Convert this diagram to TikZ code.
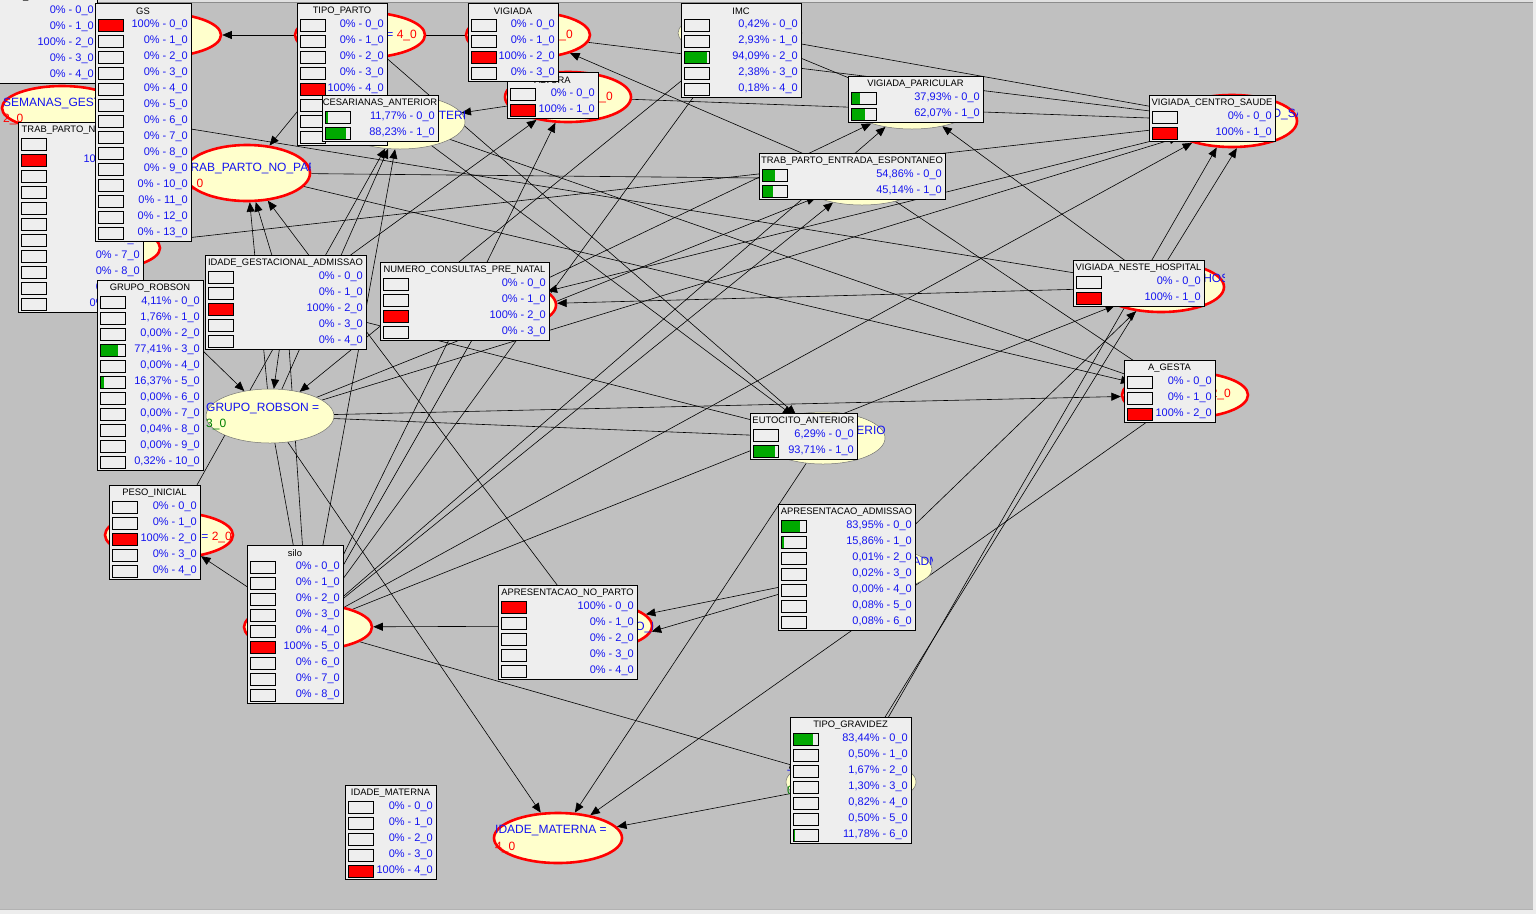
\documentclass[tikz,border=0pt]{standalone}
\usepackage{fontspec}
\setmainfont{Liberation Sans}
\usetikzlibrary{shapes.geometric,arrows.meta}
\definecolor{bgc}{RGB}{192,192,192}
\definecolor{boxc}{RGB}{238,238,238}
\definecolor{ellc}{RGB}{255,255,204}
\definecolor{vblue}{RGB}{20,20,240}
\definecolor{bgreen}{RGB}{0,168,0}
\definecolor{lgreen}{RGB}{0,128,0}
\definecolor{bred}{RGB}{255,0,0}
\pgfdeclarelayer{bglayer}\pgfdeclarelayer{edgelayer}\pgfdeclarelayer{frontlayer}
\pgfsetlayers{bglayer,edgelayer,main,frontlayer}
\tikzset{
 pboxst/.style={draw=black, line width=0.8pt, fill=boxc, inner sep=0pt, outer sep=0pt},
 ptitle/.style={font=\fontsize{9.4}{10}\selectfont, text=black, inner sep=0pt},
 pval/.style={font=\fontsize{11}{12}\selectfont, text=vblue, inner sep=0pt},
 eobs/.style={ellipse, draw=bred, line width=2.6pt, fill=ellc, inner sep=0pt},
 eun/.style={ellipse, draw=black!55, line width=0.5pt, fill=ellc, inner sep=0pt},
 elab/.style={font=\fontsize{12}{14}\selectfont, text=vblue, inner sep=0pt},
 edge/.style={draw=black, line width=0.6pt, -{Triangle[length=9.5pt,width=8pt]}},
 pedge/.style={draw=black, line width=0.6pt},
}
% ellipse node
\newcommand\bnell[6]{\node[#2, minimum width=2*#5, minimum height=2*#6] (#1) at (#3,#4) {};}
% box with one observed row
\newcommand\evbox[7]{%
 \pgfmathsetmacro\pbh{14+16*#5}%
 \node[pboxst, minimum width=#4, minimum height=\pbh, anchor=north west] (#1) at (#2,#3) {};%
 \node[ptitle] (#1t) at ({#2+#4/2},{#3+8}) {#6};%
 \pgfmathtruncatemacro\nlast{#5-1}%
 \foreach \ii in {0,...,\nlast} {%
   \pgfmathsetmacro\ry{#3+22+16*\ii}%
   \ifnum\ii=#7\relax
     \fill[bred] (#2+3,\ry-6) rectangle (#2+28,\ry+6);
     \def\pp{100}%
   \else
     \fill[boxc] (#2+3,\ry-6) rectangle (#2+28,\ry+6);
     \def\pp{0}%
   \fi
   \draw[black, line width=0.8pt] (#2+3,\ry-6) rectangle (#2+28,\ry+6);
   \node[pval, anchor=east] (#1r\ii) at (#2+#4-3,\ry) {\pp\% - \ii\_0};
 }%
}
% box with given rows: pct/value/fraction
\newcommand\pbox[7]{%
 \pgfmathsetmacro\pbh{14+16*#5}%
 \node[pboxst, minimum width=#4, minimum height=\pbh, anchor=north west] (#1) at (#2,#3) {};%
 \node[ptitle] (#1t) at ({#2+#4/2},{#3+8}) {#6};%
 \foreach \pp/\vv/\ff [count=\ii from 0] in {#7} {%
   \pgfmathsetmacro\ry{#3+22+16*\ii}%
   \fill[boxc] (#2+3,\ry-6) rectangle (#2+28,\ry+6);
   \ifdim\ff pt>0pt \fill[bgreen] (#2+3,\ry-6) rectangle ({#2+3+25*\ff},\ry+6); \fi
   \draw[black, line width=0.8pt] (#2+3,\ry-6) rectangle (#2+28,\ry+6);
   \node[pval, anchor=east] (#1r\ii) at (#2+#4-3,\ry) {\pp\% - \vv\_0};
 }%
}
\begin{document}
\begin{tikzpicture}[x=1pt,y=-1pt]
\useasboundingbox (0,0) rectangle (1536,914);
\begin{pgfonlayer}{bglayer}
\fill[bgc] (0,0) rectangle (1536,914);
\fill[black!12] (0,0) rectangle (1536,2);
\draw[black!45, line width=1pt] (0,2.5) -- (1536,2.5);
\fill[black!7] (0,909) rectangle (1536,914);
\draw[black!30, line width=0.8pt] (0,909) -- (1536,909);
\fill[black!7] (1533,0) rectangle (1536,914);
\end{pgfonlayer}

% ---------- ellipses ----------
\bnell{eSEM}{eobs}{62}{108}{60}{22}
\bnell{eGS}{eobs}{158}{35}{63}{22}
\bnell{eTP}{eobs}{360}{35}{65}{23}
\bnell{eVIG}{eobs}{528}{35}{62}{23}
\bnell{eALT}{eobs}{568}{97}{63}{25}
\bnell{eIMC}{eun}{740}{33}{62}{22}
\bnell{eCES}{eun}{400}{122}{65}{27}
\bnell{eVP}{eun}{912}{104}{64}{25}
\bnell{eVCS}{eobs}{1232}{121}{65}{26}
\bnell{eTPNP}{eobs}{247}{173}{63}{28}
\bnell{eTPE}{eun}{862}{179}{64}{26}
\bnell{eHID}{eobs}{97}{248}{63}{22}
\bnell{eIGA}{eobs}{286}{302}{64}{24}
\bnell{eNCP}{eobs}{492}{305}{64}{25}
\bnell{eGR}{eun}{270}{416}{64}{27}
\bnell{eVNH}{eobs}{1161}{287}{63}{25}
\bnell{eAG}{eobs}{1185}{395}{63}{23}
\bnell{eEA}{eun}{823}{438}{62}{26}
\bnell{ePI}{eobs}{169}{535}{64}{23}
\bnell{eSILO}{eobs}{308}{627}{64}{23}
\bnell{eANP}{eobs}{588}{626}{64}{24}
\bnell{eAA}{eun}{869}{569}{63}{22}
\bnell{eTG}{eun}{851}{782}{65}{24}
\bnell{eIM}{eobs}{558}{838}{64}{25}

% ---------- ellipse labels ----------
\begin{scope}\clip (2,86) rectangle (122,130);
\node[elab, anchor=west] (lSEM1) at (3,103) {SEMANAS\_GESTACAO =};
\node[elab, anchor=west, text=bred] (lSEM2) at (3,119) {2\_0};
\end{scope}
\node[elab, anchor=east] (lTP) at (417,35) {TIPO\_PARTO = \textcolor{bred}{4\_0}};
\node[elab, anchor=east] (lVIG) at (573,35) {VIGIADA = \textcolor{bred}{2\_0}};
\node[elab, anchor=east] (lALT) at (613,97) {ALTURA = \textcolor{bred}{1\_0}};
\begin{scope}\clip (335,95) rectangle (465,149);
\node[elab, anchor=west] (lCES) at (338,116) {CESARIANAS\_ANTERIOR =};
\end{scope}
\begin{scope}\clip (184,145) rectangle (310,201);
\node[elab, anchor=west] (lTPNP1) at (183,168) {TRAB\_PARTO\_NO\_PARTO =};
\node[elab, anchor=west, text=bred] (lTPNP2) at (183,184) {1\_0};
\end{scope}
\node[elab, anchor=west] (lGR1) at (206,408) {GRUPO\_ROBSON =};
\node[elab, anchor=west, text=lgreen] (lGR2) at (206,424) {3\_0};
\begin{scope}\clip (1167,95) rectangle (1297,147);
\node[elab, anchor=west] (lVCS) at (1175,114) {VIGIADA\_CENTRO\_SAUDE =};
\end{scope}
\begin{scope}\clip (1098,262) rectangle (1224,312);
\node[elab, anchor=west] (lVNH) at (1101,279) {VIGIADA\_NESTE\_HOSPITAL =};
\end{scope}
\node[elab, anchor=east] (lAG) at (1231,394) {A\_GESTA = \textcolor{bred}{2\_0}};
\begin{scope}\clip (761,412) rectangle (885,464);
\node[elab, anchor=west] (lEA) at (764,431) {EUTOCITO\_ANTERIOR =};
\end{scope}
\node[elab, anchor=east] (lPI) at (232,537) {PESO\_INICIAL = \textcolor{bred}{2\_0}};
\begin{scope}\clip (524,602) rectangle (652,650);
\node[elab, anchor=west] (lANP) at (522,627) {APRESENTACAO\_NO\_PARTO = \textcolor{bred}{0\_0}};
\end{scope}
\begin{scope}\clip (806,547) rectangle (932,591);
\node[elab, anchor=west] (lAA) at (808,562) {APRESENTACAO\_ADMISSAO =};
\end{scope}
\begin{scope}\clip (786,758) rectangle (916,806);
\node[elab, anchor=west] (lTG1) at (787,775) {TIPO\_GRAVIDEZ =};
\node[elab, anchor=west, text=lgreen] (lTG2) at (787,791) {0\_0};
\end{scope}
\node[elab, anchor=west] (lIM1) at (495,831) {IDADE\_MATERNA =};
\node[elab, anchor=west, text=bred] (lIM2) at (495,847) {4\_0};

% ---------- edges ----------
\begin{pgfonlayer}{edgelayer}
\draw[edge] (eTP) -- (eGS);
\draw[pedge] (eTP) -- (eVIG);
\draw[edge] (eTP) -- (eTPNP);
\draw[edge] (eIGA) -- (eTPNP);
\draw[edge] (eGR) -- (eTPNP);
\draw[edge] (eANP) -- (eTPNP);
\draw[edge] (eALT) -- (eCES);
\draw[edge] (eSILO) -- (eCES);
\draw[edge] (eGR) -- (eCES);
\draw[edge] (ePI) -- (eCES);
\draw[edge] (eSILO) -- (eALT);
\draw[edge] (eIGA) -- (eALT);
\draw[edge] (eTPE) -- (eVIG);
\draw[edge] (eVIG) -- (eVCS);
\draw[edge] (eALT) -- (eVCS);
\draw[edge] (eIMC) -- (eVP);
\draw[edge] (eIMC) -- (eVCS);
\draw[edge] (eNCP) -- (eVP);
\draw[edge] (eSILO) -- (eVP);
\draw[edge] (eVNH) -- (eVP);
\draw[edge] (eSILO) -- (eTPE);
\draw[edge] (eGR) -- (eTPE);
\draw[edge] (eTPNP) -- (eTPE);
\draw[edge] (eTG) -- (eVCS);
\draw[edge] (eTG.70) -- (eVCS.-80);
\draw[edge] (eSILO) -- (eVCS);
\draw[edge] (eGR) -- (eVCS);
\draw[edge] (eSILO) -- (eVNH);
\draw[edge] (eAA) -- (eVNH);
\draw[edge] (eSEM) -- (eVNH);
\draw[edge] (eGR) -- (eAG);
\draw[edge] (eCES) -- (eAG);
\draw[edge] (eTPNP) -- (eAG);
\draw[edge] (eTPE) -- (eAG);
\draw[edge] (eCES) -- (eEA);
\draw[edge] (eTP) -- (eEA);
\draw[edge] (eGR) -- (eEA);
\draw[edge] (eIGA) -- (eEA);
\draw[edge] (eVNH) -- (eNCP);
\draw[edge] (eVCS) -- (eNCP);
\draw[edge] (eIGA) -- (eGR);
\draw[edge] (eSILO) -- (ePI);
\draw[edge] (eANP) -- (eSILO);
\draw[edge] (eGR) -- (eIM);
\draw[edge] (eEA) -- (eIM);
\draw[edge] (eAG) -- (eIM);
\draw[edge] (eTG) -- (eIM);
\draw[edge] (eSILO) -- (eTG);
\draw[edge] (eAA) -- (eANP);
\draw[edge] (eAA.195) -- (eANP.-5);
\draw[edge] (eIMC) -- (eSILO);
\draw[edge] (eIMC) -- (eGR);
\draw[edge] (eHID) -- (eVCS);
\draw[edge] (eHID) -- (eGR);
\draw[edge] (eNCP) -- (eSILO);
\draw[edge] (eIGA) -- (eSILO);
\draw[edge] (eGR) -- (eSILO);
\end{pgfonlayer}

% ---------- probability boxes ----------
\begin{pgfonlayer}{frontlayer}
\evbox{bSEM}{-40}{-11}{137}{5}{SEMANAS\_GESTACAO}{2}
\evbox{bTPNP}{18}{122}{125}{11}{TRAB\_PARTO\_NO\_PARTO}{1}
\evbox{bGS}{95}{3}{96}{14}{GS}{0}
\pbox{bGR}{97}{280}{106}{11}{GRUPO\_ROBSON}{{4,11}/0/0, {1,76}/1/0, {0,00}/2/0, {77,41}/3/0.71, {0,00}/4/0, {16,37}/5/0.14, {0,00}/6/0, {0,00}/7/0, {0,04}/8/0, {0,00}/9/0, {0,32}/10/0}
\evbox{bTP}{297}{3}{90}{8}{TIPO\_PARTO}{4}
\pbox{bCES}{322}{95}{116}{2}{CESARIANAS\_ANTERIOR}{{11,77}/0/0.1, {88,23}/1/0.82}
\evbox{bALT}{507}{72}{91}{2}{ALTURA}{1}
\evbox{bVIG}{468}{3}{90}{4}{VIGIADA}{2}
\pbox{bIMC}{681}{3}{120}{5}{IMC}{{0,42}/0/0, {2,93}/1/0, {94,09}/2/0.9, {2,38}/3/0, {0,18}/4/0}
\pbox{bVP}{848}{76}{135}{2}{VIGIADA\_PARICULAR}{{37,93}/0/0.34, {62,07}/1/0.57}
\evbox{bVCS}{1149}{95}{126}{2}{VIGIADA\_CENTRO\_SAUDE}{1}
\pbox{bTPE}{759}{153}{186}{2}{TRAB\_PARTO\_ENTRADA\_ESPONTANEO}{{54,86}/0/0.5, {45,14}/1/0.42}
\evbox{bIGA}{205}{255}{161}{5}{IDADE\_GESTACIONAL\_ADMISSAO}{2}
\evbox{bNCP}{380}{262}{169}{4}{NUMERO\_CONSULTAS\_PRE\_NATAL}{2}
\evbox{bVNH}{1073}{260}{131}{2}{VIGIADA\_NESTE\_HOSPITAL}{1}
\evbox{bAG}{1124}{360}{91}{3}{A\_GESTA}{2}
\pbox{bEA}{750}{413}{107}{2}{EUTOCITO\_ANTERIOR}{{6,29}/0/0, {93,71}/1/0.88}
\evbox{bPI}{109}{485}{91}{5}{PESO\_INICIAL}{2}
\evbox{bSILO}{247}{545}{96}{9}{silo}{5}
\evbox{bANP}{498}{585}{139}{5}{APRESENTACAO\_NO\_PARTO}{0}
\pbox{bAA}{778}{504}{137}{7}{APRESENTACAO\_ADMISSAO}{{83,95}/0/0.76, {15,86}/1/0.12, {0,01}/2/0, {0,02}/3/0, {0,00}/4/0, {0,08}/5/0, {0,08}/6/0}
\pbox{bTG}{790}{717}{121}{7}{TIPO\_GRAVIDEZ}{{83,44}/0/0.8, {0,50}/1/0, {1,67}/2/0, {1,30}/3/0, {0,82}/4/0, {0,50}/5/0, {11,78}/6/0.08}
\evbox{bIM}{345}{785}{91}{5}{IDADE\_MATERNA}{4}
\end{pgfonlayer}
\end{tikzpicture}
\end{document}
